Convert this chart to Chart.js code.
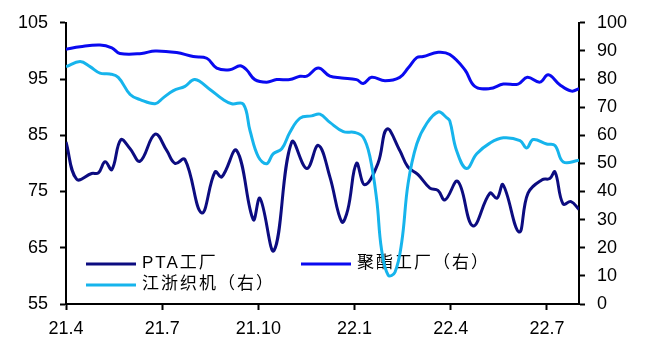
<!DOCTYPE html>
<html>
<head>
<meta charset="utf-8">
<script src="https://cdn.jsdelivr.net/npm/chart.js@4"></script>
<style>
  html, body { margin: 0; padding: 0; background: #fff; }
  #wrap { width: 646px; height: 343px; }
</style>
</head>
<body>
<div id="wrap"><canvas id="chart" width="646" height="343"></canvas></div>
<script>
// x values are months counted from 2021-04
const tickLabels = ["21.4", "21.7", "21.10", "22.1", "22.4", "22.7"];

// PTA工厂 (left axis)
const ptaMonths = [0, 0.33, 0.80, 1.01, 1.22, 1.43, 1.71, 2.00, 2.31, 2.78, 3.14, 3.40, 3.71,
  4.23, 4.65, 4.86, 5.32, 5.84, 6.05, 6.49, 7.04, 7.51, 7.87, 8.23, 8.60, 8.79, 9.06, 9.32,
  9.73, 10.01, 10.41, 10.66, 10.98, 11.35, 11.60, 11.82, 12.22, 12.69, 13.22, 13.44, 13.63,
  14.13, 14.41, 14.85, 15.09, 15.25, 15.50, 15.75, 16];
const ptaValues = [83.8, 77.2, 78.2, 78.3, 80.3, 78.9, 84.2, 82.6, 80.4, 85.2, 82.3, 80, 80.7,
  71.2, 78.5, 77.6, 82.3, 70, 73.8, 64.5, 83.8, 79.1, 83.2, 77.6, 69.6, 71.8, 80, 76.2,
  80, 86.1, 82.3, 79.4, 78, 75.6, 75.2, 73.5, 76.8, 68.9, 74.7, 73.8, 76.2,
  67.8, 74.7, 77.1, 77.3, 78.5, 72.8, 73.2, 71.8];

// 聚酯工厂 (right axis)
const polyMonths = [0, 0.44, 1.06, 1.43, 1.68, 2.36, 2.78, 3.45, 3.97, 4.39, 4.70, 5.11, 5.43,
  5.63, 5.89, 6.26, 6.57, 6.98, 7.30, 7.51, 7.87, 8.23, 8.60, 9.06, 9.27, 9.53, 9.95, 10.41,
  10.67, 10.94, 11.14, 11.61, 11.97, 12.44, 12.75, 13.22, 13.64, 14.10, 14.39, 14.78, 15.04,
  15.40, 15.77, 16];
const polyValues = [90.6, 91.5, 92.1, 91.1, 89.1, 89.1, 90, 89.4, 88, 87.4, 83.9, 83.3, 84.7,
  83.3, 79.8, 78.9, 79.8, 79.8, 81, 81, 83.9, 81, 80.4, 79.8, 78.4, 80.6, 79.4, 80.6,
  83.9, 87.6, 88, 89.5, 88.7, 83.3, 77.4, 76.6, 78.2, 78.2, 80.6, 78.9, 81.5,
  78, 75.7, 76.6];

// 江浙织机 (right axis)
const loomMonths = [0, 0.44, 0.75, 1.06, 1.37, 1.63, 2.00, 2.31, 2.78, 3.03, 3.35, 3.71, 4.02,
  4.49, 4.90, 5.17, 5.53, 5.74, 6.00, 6.26, 6.46, 6.73, 6.98, 7.30, 7.66, 7.92, 8.23, 8.65,
  9.01, 9.27, 9.48, 9.69, 9.84, 10.05, 10.26, 10.47, 10.67, 10.94, 11.25, 11.61, 11.87, 11.97,
  12.18, 12.49, 12.81, 13.22, 13.64, 14.16, 14.37, 14.57, 14.99, 15.25, 15.51, 16];
const loomValues = [84.4, 86.2, 84.4, 82.1, 81.8, 80.6, 74.5, 72.7, 71.2, 73.3, 75.9, 77.4, 79.8,
  76.3, 72.7, 71.2, 71.1, 61.6, 52.3, 49.9, 53.4, 55.2, 61, 66.1, 66.9, 67.5, 64.6, 61.3,
  61, 59.3, 52.3, 37.1, 19.5, 10.2, 11.3, 21.9, 42.9, 56.9, 64.2, 68.3, 66.3, 65.1,
  54.6, 48.2, 53.4, 57.2, 59.1, 58.1, 55.5, 58.5, 56.9, 56.4, 50.5, 51.1];

const toPoints = (xs, ys) => xs.map((x, i) => ({ x: x, y: ys[i] }));

const FONT = '"Liberation Sans", Arial, "Noto Sans CJK SC", sans-serif';

// legend sits inside the plot, under the lines
const legendSpots = [
  { ds: 0, x: 86, y: 264 },
  { ds: 1, x: 301, y: 264 },
  { ds: 2, x: 86, y: 285 },
];

const insideLegend = {
  id: "insideLegend",
  beforeDatasetsDraw(chart) {
    const ctx = chart.ctx;
    ctx.save();
    ctx.font = "17px " + FONT;
    ctx.textBaseline = "middle";
    ctx.textAlign = "left";
    if ("letterSpacing" in ctx) ctx.letterSpacing = "2px";
    legendSpots.forEach((s) => {
      const ds = chart.data.datasets[s.ds];
      ctx.strokeStyle = ds.borderColor;
      ctx.lineWidth = 3;
      ctx.beginPath();
      ctx.moveTo(s.x, s.y);
      ctx.lineTo(s.x + 50, s.y);
      ctx.stroke();
      ctx.fillStyle = "#000";
      ctx.fillText(ds.label, s.x + 56, s.y - 1);
    });
    ctx.restore();
  },
};

const axisCommon = {
  border: { color: "#000", width: 2 },
  grid: { drawOnChartArea: false, color: "#000", tickLength: 6, tickWidth: 2 },
  ticks: { color: "#000", font: { size: 18, family: FONT }, padding: 12 },
};

new Chart(document.getElementById("chart"), {
  type: "line",
  data: {
    datasets: [
      {
        label: "PTA工厂",
        data: toPoints(ptaMonths, ptaValues),
        yAxisID: "yLeft",
        borderColor: "#0c0c80",
        order: 3,
      },
      {
        label: "聚酯工厂（右）",
        data: toPoints(polyMonths, polyValues),
        yAxisID: "yRight",
        borderColor: "#0a0af0",
        order: 2,
      },
      {
        label: "江浙织机（右）",
        data: toPoints(loomMonths, loomValues),
        yAxisID: "yRight",
        borderColor: "#16b4ec",
        order: 1,
      },
    ],
  },
  options: {
    responsive: false,
    animation: false,
    devicePixelRatio: 1,
    layout: { padding: { top: 19, left: 0, right: 0, bottom: 0 } },
    elements: {
      line: { borderWidth: 3, tension: 0.4, fill: false },
      point: { radius: 0 },
    },
    plugins: {
      legend: { display: false },
      tooltip: { enabled: false },
    },
    scales: {
      x: {
        type: "linear",
        min: 0,
        max: 16,
        border: axisCommon.border,
        grid: axisCommon.grid,
        ticks: {
          color: "#000",
          font: { size: 18, family: FONT },
          padding: 8,
          stepSize: 3,
          autoSkip: false,
          maxRotation: 0,
          callback: (v) => (v % 3 === 0 ? tickLabels[v / 3] : null),
        },
        afterFit: (s) => { s.height = 39; },
      },
      yLeft: {
        position: "left",
        min: 55,
        max: 105,
        border: axisCommon.border,
        grid: axisCommon.grid,
        ticks: Object.assign({ stepSize: 10 }, axisCommon.ticks),
        afterFit: (s) => { s.width = 66; },
      },
      yRight: {
        position: "right",
        min: 0,
        max: 100,
        border: axisCommon.border,
        grid: axisCommon.grid,
        ticks: Object.assign({ stepSize: 10 }, axisCommon.ticks),
        afterFit: (s) => { s.width = 67; },
      },
    },
  },
  plugins: [insideLegend],
});
</script>
</body>
</html>
